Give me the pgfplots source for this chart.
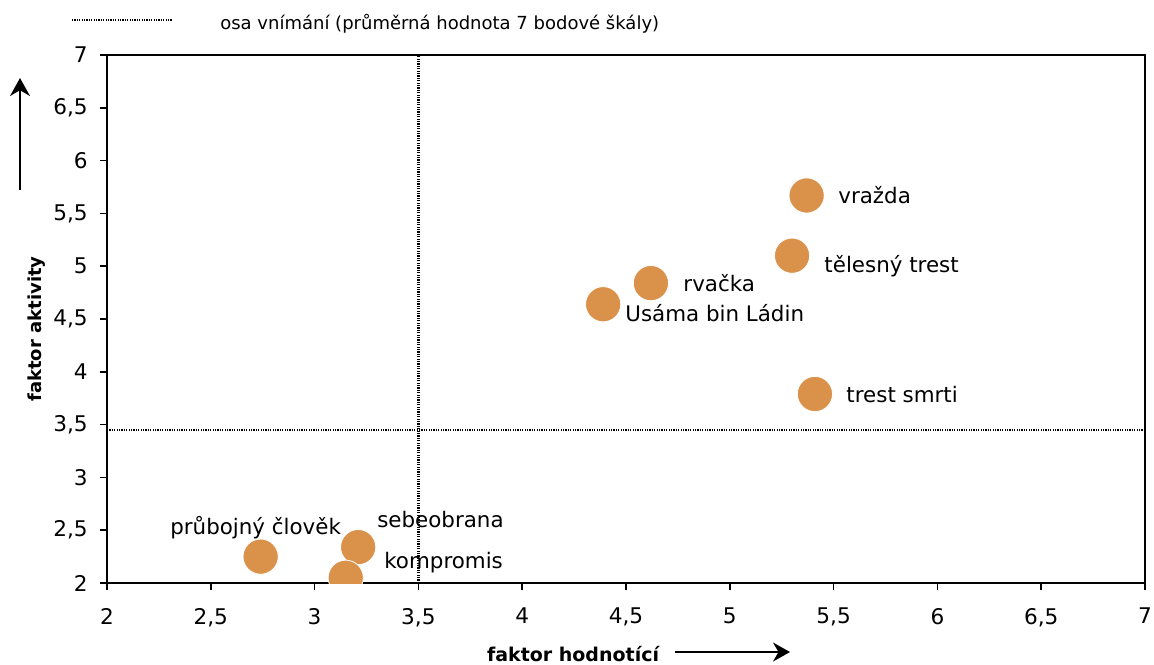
\documentclass[border=0pt]{standalone}
\usepackage{pgfplots}
\pgfplotsset{compat=1.18}
\usepackage{fontspec}
\setmainfont{DejaVu Sans}
\usetikzlibrary{arrows.meta}
\definecolor{bod}{HTML}{DA924B}

\begin{document}
\begin{tikzpicture}
\begin{axis}[
  scale only axis, width=519pt, height=264pt,
  xmin=2, xmax=7, ymin=2, ymax=7,
  xtick distance=0.5, ytick distance=0.5,
  tick align=outside, major tick length=3.5pt, tick pos=left,
  /pgf/number format/use comma,
  /pgf/number format/assume math mode=true,
  tick label style={font=\fontsize{10.8}{12}\selectfont},
  xticklabel style={yshift=-5.5pt},
  yticklabel style={xshift=-2.6pt},
  axis line style={line width=0.75pt},
  tick style={line width=0.75pt, black},
  clip marker paths=true,
]
  % osy vnímání
  \addplot[line width=1.3pt, dash pattern=on 0.6pt off 0.6pt] coordinates {(3.5,2) (3.5,7)};
  \addplot[line width=1.3pt, dash pattern=on 0.6pt off 0.6pt] coordinates {(2,3.45) (7,3.45)};

  \addplot[only marks, mark=*, mark size=8.8pt,
    mark options={fill=bod, draw=white, line width=0.4pt}] coordinates {
    (5.37,5.67) (5.30,5.10) (4.62,4.84) (4.39,4.64) (5.41,3.79)
    (2.74,2.25) (3.21,2.34) (3.15,2.05)
  };

  \begin{scope}[every node/.style={anchor=base west, inner sep=0pt, font=\fontsize{10.7}{12}\selectfont}]
    \node at (axis cs:5.521,5.598) {vražda};
    \node at (axis cs:5.454,4.936) {tělesný trest};
    \node at (axis cs:4.775,4.756) {rvačka};
    \node at (axis cs:4.495,4.472) {Usáma bin Ládin};
    \node at (axis cs:5.560,3.714) {trest smrti};
    \node at (axis cs:2.303,2.464) {průbojný člověk};
    \node at (axis cs:3.300,2.530) {sebeobrana};
    \node at (axis cs:3.334,2.133) {kompromis};
  \end{scope}

  \coordinate (bl) at (axis cs:1.4846,1.233);
  \coordinate (tr) at (axis cs:7.0434,7.521);
  \coordinate (lg1) at (axis cs:1.831,7.331);
  \coordinate (lg2) at (axis cs:2.313,7.331);
  \coordinate (lgt) at (axis cs:2.544,7.246);
  \coordinate (ya1) at (axis cs:1.581,5.722);
  \coordinate (ya2) at (axis cs:1.581,6.782);
  \coordinate (yl) at (axis cs:1.663,4.405);
  \coordinate (xa1) at (axis cs:4.736,1.3466);
  \coordinate (xa2) at (axis cs:5.29,1.3466);
  \coordinate (xl) at (axis cs:4.245,1.261);
\end{axis}

\draw[line width=1.3pt, dash pattern=on 0.6pt off 0.6pt] (lg1) -- (lg2);
\node[anchor=base west, inner sep=0pt, font=\fontsize{9}{11}\selectfont] at (lgt)
  {osa vnímání (průměrná hodnota 7 bodové škály)};
\draw[line width=0.9pt, -{Stealth[length=9pt, width=10pt]}] (ya1) -- (ya2);
\draw[line width=0.9pt, -{Stealth[length=8.5pt, width=9.5pt]}] (xa1) -- (xa2);
\node[rotate=90, inner sep=0pt, font=\bfseries\fontsize{9}{11}\selectfont] at (yl) {faktor aktivity};
\node[anchor=base, inner sep=0pt, font=\bfseries\fontsize{9.5}{11}\selectfont] at (xl) {faktor hodnotící};

\pgfresetboundingbox
\path[use as bounding box] (bl) rectangle (tr);
\end{tikzpicture}
\end{document}
